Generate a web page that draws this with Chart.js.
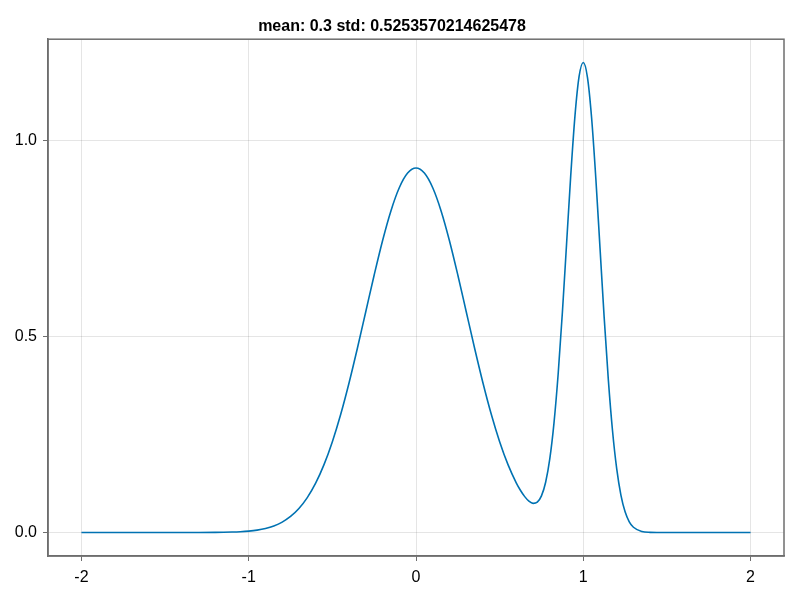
<!DOCTYPE html>
<html lang="en">
<head>
    <meta charset="UTF-8">
    <title>mean / std</title>
    <script src="https://cdn.jsdelivr.net/npm/chart.js@4.4.0/dist/chart.umd.min.js"></script>
    <style>
        html, body { margin: 0; padding: 0; background: #fff; }
    </style>
</head>
<body>
    <canvas id="densitychart" width="800" height="600"></canvas>

    <script>
        // density curve
        var xs = [-2, -1.8, -1.6, -1.4, -1.3, -1.2, -1.15, -1.1, -1.05, -1.0,
                  -0.95, -0.9, -0.85, -0.8, -0.75, -0.7, -0.65, -0.6, -0.55, -0.5,
                  -0.45, -0.4, -0.35, -0.3, -0.25, -0.2, -0.15, -0.1, -0.05, 0,
                  0.05, 0.1, 0.15, 0.2, 0.25, 0.3, 0.35, 0.4, 0.45, 0.5,
                  0.55, 0.6, 0.625, 0.65, 0.675, 0.7, 0.725, 0.75, 0.775, 0.8,
                  0.825, 0.85, 0.875, 0.9, 0.925, 0.95, 0.975, 1.0, 1.025, 1.05,
                  1.075, 1.1, 1.125, 1.15, 1.175, 1.2, 1.225, 1.25, 1.275, 1.3,
                  1.35, 1.4, 1.45, 1.5, 1.6, 1.8, 2.0];
        var ys = [0, 0, 0, 0.00002, 0.00008, 0.00031, 0.0006, 0.00112, 0.00204, 0.0036,
                  0.00619, 0.01034, 0.01681, 0.02659, 0.0409, 0.06119, 0.08903, 0.12598, 0.17338, 0.23211,
                  0.3022, 0.38269, 0.47132, 0.5646, 0.65779, 0.74538, 0.82148, 0.88056, 0.91802, 0.93086,
                  0.91802, 0.88056, 0.82148, 0.74538, 0.65779, 0.5646, 0.47132, 0.38269, 0.3022, 0.23211,
                  0.17343, 0.12638, 0.10735, 0.09165, 0.08016, 0.07449, 0.07748, 0.09349, 0.12832, 0.18857,
                  0.28006, 0.40536, 0.56118, 0.73626, 0.91145, 1.06239, 1.16474, 1.20043, 1.16272, 1.05824,
                  0.90494, 0.72704, 0.54877, 0.38915, 0.25927, 0.16229, 0.09545, 0.05275, 0.02739, 0.01338,
                  0.00266, 0.00042, 0.00005, 0, 0, 0, 0];

        var xTicks = [-2, -1, 0, 1, 2];
        var xTickLabels = ['-2', '-1', '0', '1', '2'];
        var yTicks = [0, 0.5, 1.0];
        var yTickLabels = ['0.0', '0.5', '1.0'];
        var titleText = 'mean: 0.3 std: 0.5253570214625478';

        var points = xs.map(function (x, i) { return { x: x, y: ys[i] }; });

        var spineColor = '#6e6e6e';
        var gridColor = 'rgba(0,0,0,0.10)';
        var tickFont = { family: 'Liberation Sans, Arial, sans-serif', size: 16 };

        // Makie draws a full frame round the plot area
        var framePlugin = {
            id: 'frame',
            afterDraw: function (chart) {
                var a = chart.chartArea;
                var ctx = chart.ctx;
                ctx.save();
                ctx.strokeStyle = spineColor;
                ctx.lineWidth = 1.5;
                ctx.strokeRect(a.left, a.top, a.right - a.left, a.bottom - a.top);
                ctx.restore();
            }
        };

        new Chart(document.getElementById('densitychart').getContext('2d'), {
            type: 'line',
            data: {
                datasets: [{
                    data: points,
                    borderColor: '#0072b2',
                    borderWidth: 1.6,
                    pointRadius: 0,
                    fill: false,
                    cubicInterpolationMode: 'monotone'
                }]
            },
            options: {
                responsive: false,
                animation: false,
                layout: { padding: { left: 0, right: 16, top: 0, bottom: 0 } },
                plugins: {
                    legend: { display: false },
                    tooltip: { enabled: false },
                    title: {
                        display: true,
                        text: titleText,
                        color: '#000',
                        font: { family: 'Liberation Sans, Arial, sans-serif', size: 16, weight: 'bold' },
                        padding: { top: 17, bottom: 3 }
                    }
                },
                scales: {
                    x: {
                        type: 'linear',
                        min: -2.2,
                        max: 2.2,
                        afterBuildTicks: function (axis) {
                            axis.ticks = xTicks.map(function (v) { return { value: v }; });
                        },
                        afterFit: function (axis) { axis.height = 44; },
                        ticks: {
                            color: '#000',
                            font: tickFont,
                            padding: 7,
                            maxRotation: 0,
                            callback: function (v) { return xTickLabels[xTicks.indexOf(v)]; }
                        },
                        grid: { color: gridColor, tickColor: spineColor, tickLength: 5, lineWidth: 1 },
                        border: { color: spineColor, width: 1.5 }
                    },
                    y: {
                        type: 'linear',
                        min: -0.06,
                        max: 1.26,
                        afterBuildTicks: function (axis) {
                            axis.ticks = yTicks.map(function (v) { return { value: v }; });
                        },
                        afterFit: function (axis) { axis.width = 48; },
                        ticks: {
                            color: '#000',
                            font: tickFont,
                            padding: 6,
                            callback: function (v) { return yTickLabels[yTicks.indexOf(v)]; }
                        },
                        grid: { color: gridColor, tickColor: spineColor, tickLength: 5, lineWidth: 1 },
                        border: { color: spineColor, width: 1.5 }
                    }
                }
            },
            plugins: [framePlugin]
        });
    </script>
</body>
</html>
